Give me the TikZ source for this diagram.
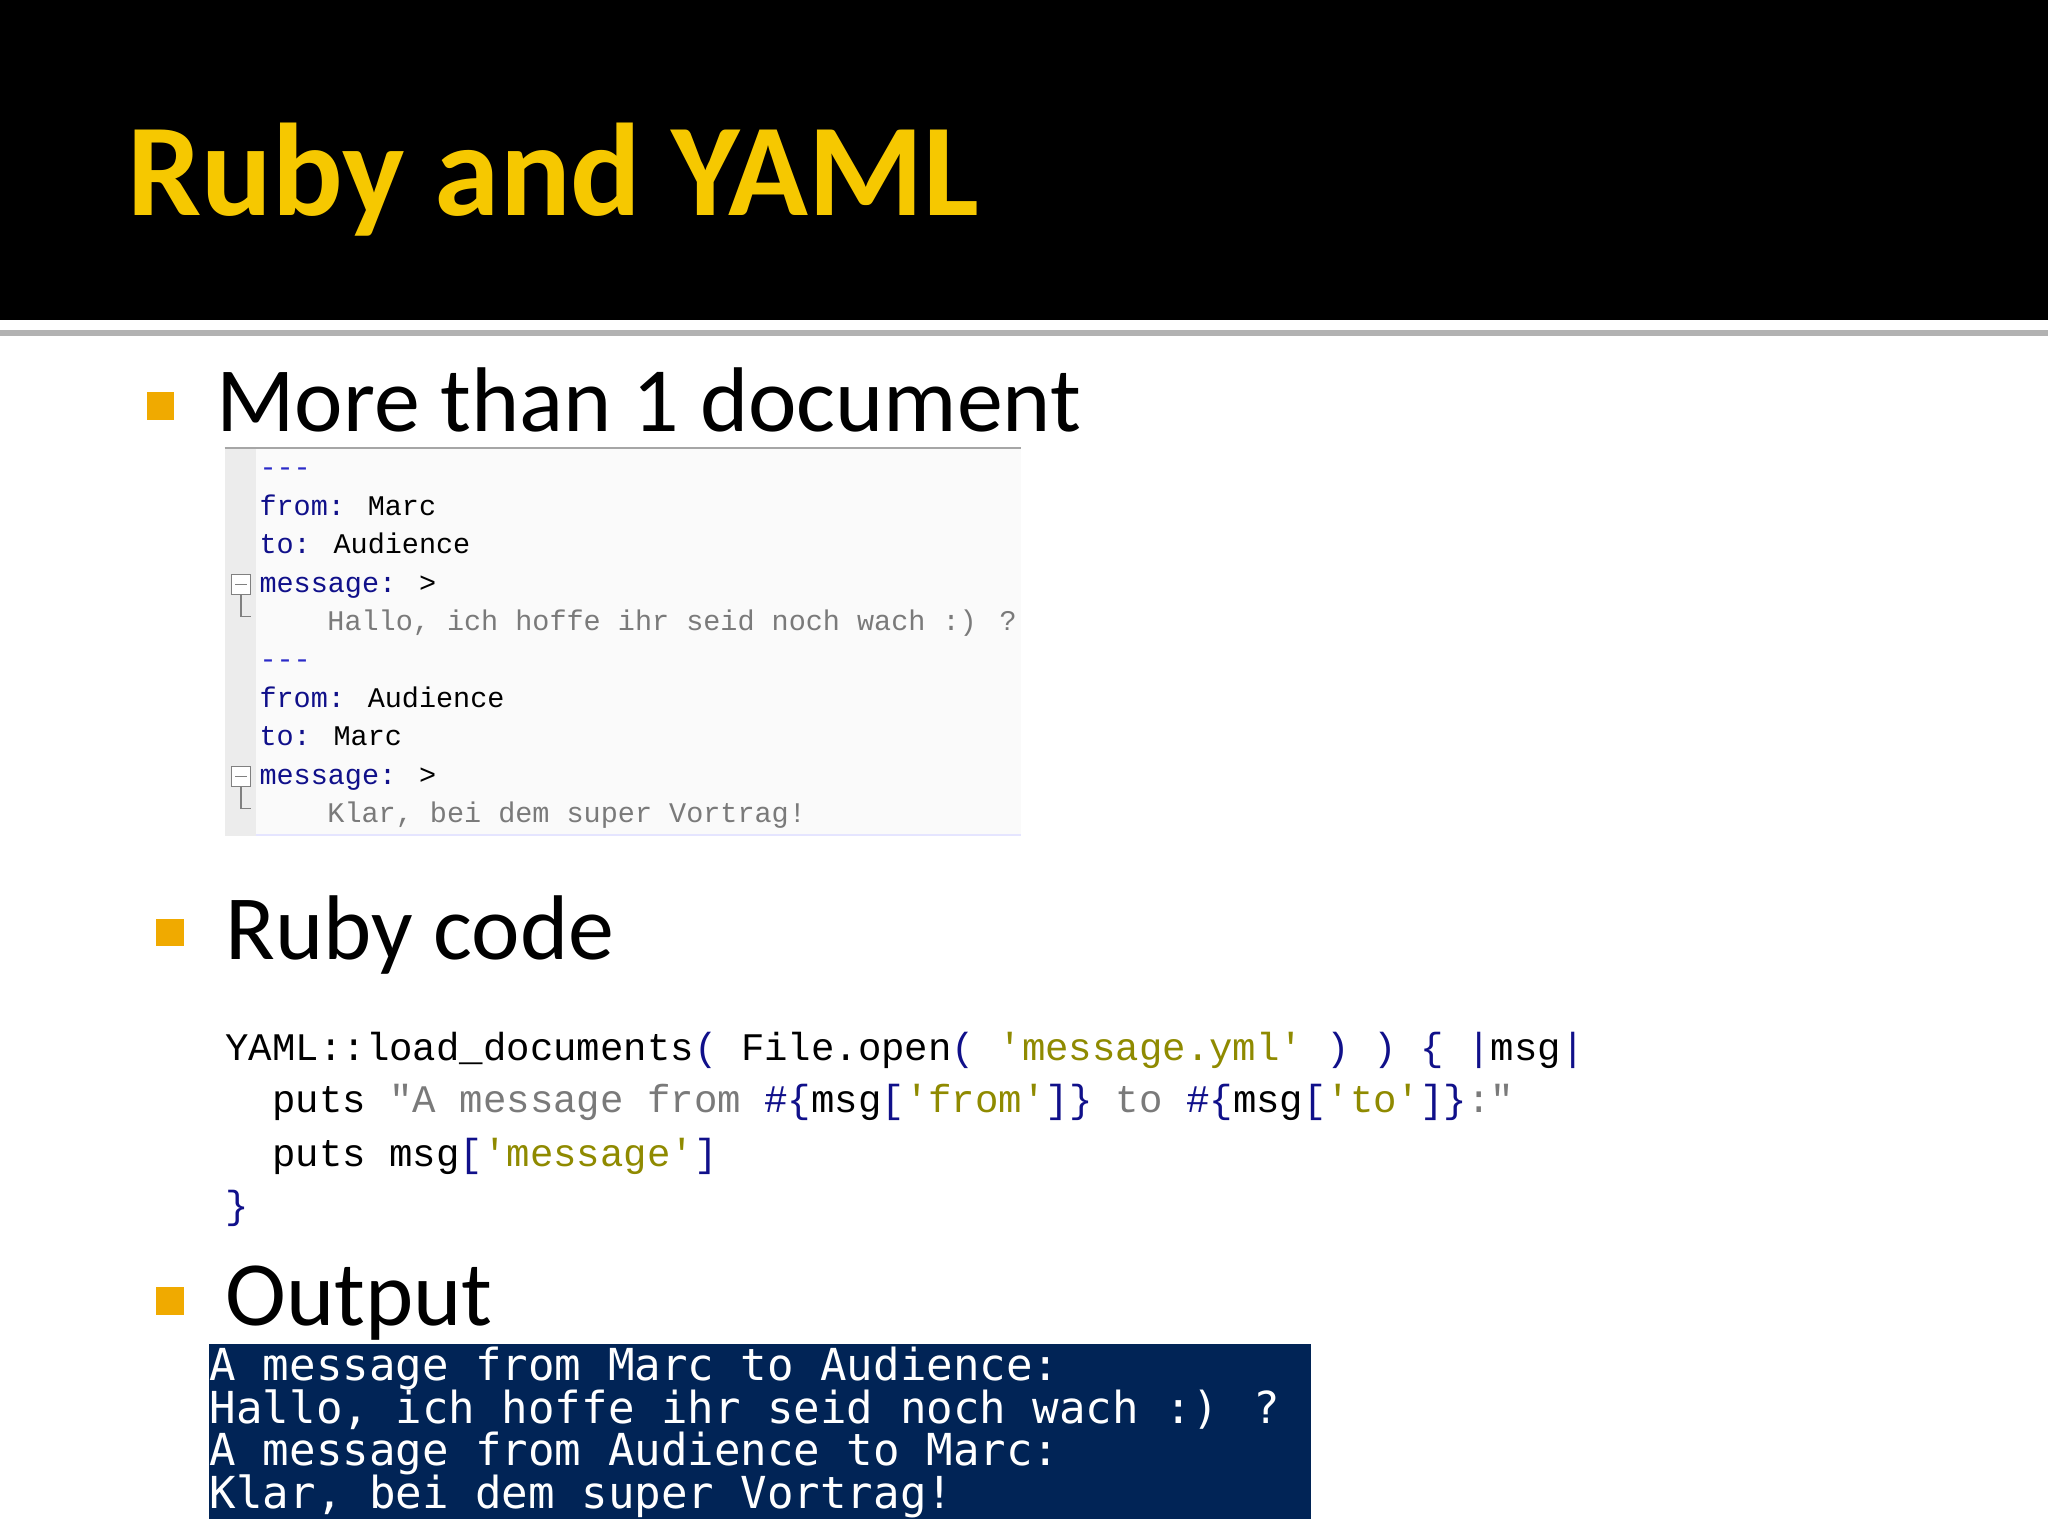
\documentclass[tikz,border=0pt]{standalone}
\usepackage{fontspec}
\setmainfont{Carlito}
\newfontfamily\codefont{Liberation Mono}
\newfontfamily\consfont{DejaVu Sans Mono}
\usetikzlibrary{positioning}
\definecolor{titleyellow}{HTML}{F6C800}
\definecolor{bulletorange}{HTML}{F0AA00}
\definecolor{keyblue}{HTML}{10108A}
\definecolor{dashblue}{HTML}{2A2AC8}
\definecolor{msggrey}{HTML}{7A7A7A}
\definecolor{strolive}{HTML}{8F8A00}
\definecolor{consblue}{HTML}{012456}
\newcommand{\sq}{\textquotesingle}
\newcommand{\ky}[1]{\textcolor{keyblue}{#1}}
\newcommand{\so}[1]{\textcolor{strolive}{#1}}
\newcommand{\sg}[1]{\textcolor{msggrey}{#1}}
\tikzset{
  bullet/.style={fill=bulletorange, minimum size=0.21cm, inner sep=0pt},
  heading/.style={anchor=base west, inner sep=0pt, font=\fontsize{20}{24}\selectfont},
  yamlline/.style={anchor=base west, inner sep=0pt, font=\codefont\fontsize{6.2}{7}\selectfont},
  rubyline/.style={anchor=base west, inner sep=0pt, font=\codefont\fontsize{8.5}{10}\selectfont},
  consline/.style={anchor=base west, inner sep=0pt, text=white, font=\consfont\fontsize{9.6}{11}\selectfont},
  fold/.style={draw=gray, line width=0.25pt}
}
\begin{document}
\begin{tikzpicture}[x=0.01cm, y=-0.01cm]
\useasboundingbox (0,0) rectangle (1568,1176);
% title band
\fill[black] (0,0) rectangle (1568,245);
\draw[gray!60, line width=1.2pt] (0,255) -- (1568,255);
\node[anchor=base west, inner sep=0pt, text=titleyellow, font=\bfseries\fontsize{28.7}{32}\selectfont] (title) at (97,165) {Ruby and YAML};

% first bullet
\node[bullet] (b1) at (123,311) {};
\node[heading] (h1) at (165,330) {More than 1 document};
\fill[gray!4] (172,343) rectangle (782,640);
\fill[gray!15] (172,343) rectangle (196,640);
\draw[gray!70, line width=0.6pt] (172,343) -- (782,343);
\draw[blue!10] (196,639) -- (782,639);
\node[yamlline] (y1) at (198,365) {\textcolor{dashblue}{-{}-{}-}};
\node[yamlline] (y2) at (198,395) {\ky{from:} Marc};
\node[yamlline] (y3) at (198,424) {\ky{to:} Audience};
\node[yamlline] (y4) at (198,454) {\ky{message:} >};
\node[yamlline] (y5) at (250,483) {\sg{Hallo, ich hoffe ihr seid noch wach :) ?}};
\node[yamlline] (y6) at (198,512) {\textcolor{dashblue}{-{}-{}-}};
\node[yamlline] (y7) at (198,542) {\ky{from:} Audience};
\node[yamlline] (y8) at (198,571) {\ky{to:} Marc};
\node[yamlline] (y9) at (198,601) {\ky{message:} >};
\node[yamlline] (y10) at (250,630) {\sg{Klar, bei dem super Vortrag!}};
\foreach \fy in {440,587}{
  \draw[fold, fill=white] (177,\fy) rectangle (192,\fy+15);
  \draw[fold] (180,\fy+7.5) -- (189,\fy+7.5);
  \draw[fold] (184.5,\fy+15) -- (184.5,\fy+32) -- (192,\fy+32);
}

% second bullet
\node[bullet] (b2) at (130,714) {};
\node[heading] (h2) at (172,735) {Ruby code};
\node[rubyline] (r1) at (172,812) {YAML::load\_documents\ky{(} File.open\ky{(} \so{\sq message.yml\sq} \ky{)} \ky{)} \ky{\{} \ky{|}msg\ky{|}};
\node[rubyline] (r2) at (172,852) {\ \ puts \sg{\textquotedbl A message from }\ky{\#\{}msg\ky{[}\so{\sq from\sq}\ky{]\}}\ \sg{to}\ \ky{\#\{}msg\ky{[}\so{\sq to\sq}\ky{]\}}\sg{:\textquotedbl}};
\node[rubyline] (r3) at (172,893) {\ \ puts msg\ky{[}\so{\sq message\sq}\ky{]}};
\node[rubyline] (r4) at (172,933) {\ky{\}}};

% third bullet
\node[bullet] (b3) at (130,996) {};
\node[heading] (h3) at (172,1015) {Output};
\fill[consblue] (160,1029) rectangle (1004,1163);
\node[consline] (c1) at (160,1057) {A message from Marc to Audience:};
\node[consline] (c2) at (160,1090) {Hallo, ich hoffe ihr seid noch wach :) ?};
\node[consline] (c3) at (160,1122) {A message from Audience to Marc:};
\node[consline] (c4) at (160,1155) {Klar, bei dem super Vortrag!};
\end{tikzpicture}
\end{document}
